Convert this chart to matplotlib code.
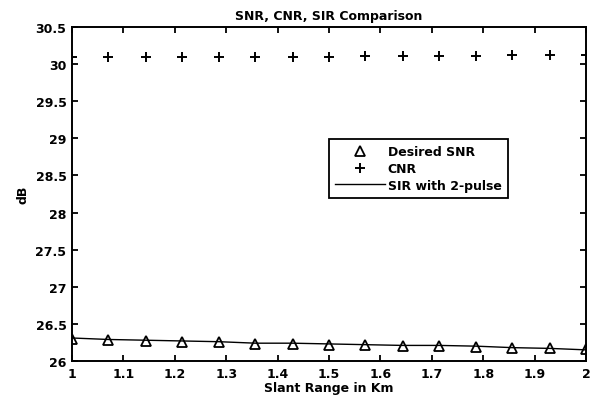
import matplotlib.pyplot as plt

# Data
slant_range = [1.0, 1.071, 1.143, 1.214, 1.286, 1.357, 1.429, 1.5,
               1.571, 1.643, 1.714, 1.786, 1.857, 1.929, 2.0]
snr = [26.29, 26.28, 26.27, 26.26, 26.25, 26.23, 26.23, 26.22,
       26.21, 26.20, 26.20, 26.19, 26.18, 26.17, 26.16]
cnr = [30.09, 30.09, 30.09, 30.09, 30.10, 30.10, 30.10, 30.10,
       30.11, 30.11, 30.11, 30.11, 30.12, 30.12, 30.12]
sir = [26.31, 26.29, 26.28, 26.27, 26.26, 26.24, 26.24, 26.23,
       26.22, 26.21, 26.21, 26.20, 26.18, 26.17, 26.15]
xticks = [1, 1.1, 1.2, 1.3, 1.4, 1.5, 1.6, 1.7, 1.8, 1.9, 2]
yticks = [26, 26.5, 27, 27.5, 28, 28.5, 29, 29.5, 30, 30.5]

plt.rcParams['font.family'] = ['DejaVu Sans']
plt.rcParams['font.weight'] = 'bold'
plt.rcParams['axes.labelweight'] = 'bold'
plt.rcParams['font.size'] = 9

fig = plt.figure(figsize=(5.95, 4.02), dpi=100)
ax = fig.add_axes([72 / 595, 40 / 402, 514 / 595, 334 / 402])

ax.plot(slant_range, snr, linestyle='none', marker='^', markersize=7.5,
        markerfacecolor='none', markeredgecolor='black', markeredgewidth=1.3,
        label='Desired SNR')
ax.plot(slant_range, cnr, linestyle='none', marker='+', markersize=6.5,
        color='black', markeredgewidth=1.4, label='CNR')
ax.plot(slant_range, sir, color='black', linewidth=1, label='SIR with 2-pulse')

ax.set_xlim(1, 2)
ax.set_ylim(26, 30.5)
ax.set_xticks(xticks)
ax.set_xticklabels(['1', '1.1', '1.2', '1.3', '1.4', '1.5', '1.6', '1.7', '1.8', '1.9', '2'])
ax.set_yticks(yticks)
ax.set_yticklabels(['26', '26.5', '27', '27.5', '28', '28.5', '29', '29.5', '30', '30.5'])
ax.tick_params(direction='in', top=True, right=True, length=4, width=1.3, pad=4)
for s in ax.spines.values():
    s.set_linewidth(1.4)

ax.set_title('SNR, CNR, SIR Comparison', fontsize=9, fontweight='bold', pad=6)
ax.set_xlabel('Slant Range in Km', labelpad=1)
ax.set_ylabel('dB', labelpad=4)

leg = ax.legend(loc='lower left', bbox_to_anchor=(0.5, 0.488), frameon=True,
                fancybox=False, edgecolor='black', framealpha=1,
                handlelength=4.0, borderpad=0.5, labelspacing=0.3, handletextpad=0.2,
                borderaxespad=0)
leg.get_frame().set_linewidth(1.3)

plt.savefig('out.png', dpi=100)
